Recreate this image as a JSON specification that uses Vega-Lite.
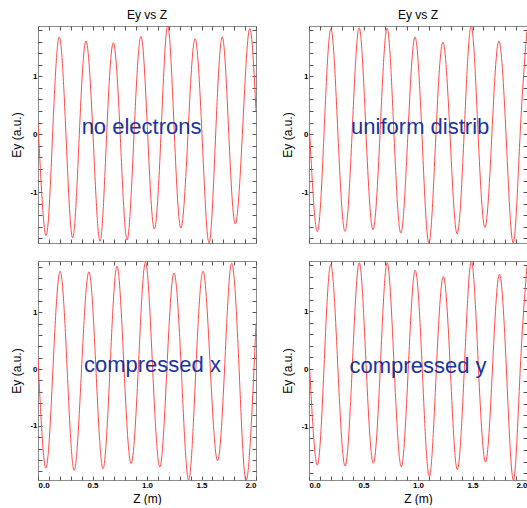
{
  "$schema": "https://vega.github.io/schema/vega-lite/v6.json",
  "padding": {"left": 10, "top": 8, "right": 0, "bottom": 0},
  "background": "white",
  "config": {
    "font": "Liberation Sans",
    "view": {"stroke": "#8c8c8c", "strokeWidth": 1},
    "axis": {
      "grid": false, "domain": false, "tickSize": -4, "tickColor": "#555555", "tickWidth": 1,
      "labelFont": "Liberation Sans", "labelFontSize": 8, "labelFontWeight": "bold", "labelColor": "#000000",
      "titleFont": "Liberation Sans", "titleFontSize": 12, "titleFontWeight": "normal", "titleColor": "#000000"
    },
    "title": {"fontSize": 12, "fontWeight": "normal", "offset": 4, "font": "Liberation Sans", "anchor": "middle"}
  },
  "datasets": {
    "waves": [
      {"panel": "A", "z": 0, "ey": 0.2},
      {"panel": "A", "z": 0.073, "ey": -1.75},
      {"panel": "A", "z": 0.134, "ey": 0},
      {"panel": "A", "z": 0.195, "ey": 1.68},
      {"panel": "A", "z": 0.2565, "ey": 0},
      {"panel": "A", "z": 0.318, "ey": -1.79},
      {"panel": "A", "z": 0.379, "ey": 0},
      {"panel": "A", "z": 0.44, "ey": 1.61},
      {"panel": "A", "z": 0.5045, "ey": 0},
      {"panel": "A", "z": 0.569, "ey": -1.85},
      {"panel": "A", "z": 0.63, "ey": 0},
      {"panel": "A", "z": 0.691, "ey": 1.58},
      {"panel": "A", "z": 0.754, "ey": 0},
      {"panel": "A", "z": 0.817, "ey": -1.83},
      {"panel": "A", "z": 0.881, "ey": 0},
      {"panel": "A", "z": 0.945, "ey": 1.69},
      {"panel": "A", "z": 1.006, "ey": 0},
      {"panel": "A", "z": 1.067, "ey": -1.64},
      {"panel": "A", "z": 1.1285, "ey": 0},
      {"panel": "A", "z": 1.19, "ey": 1.87},
      {"panel": "A", "z": 1.251, "ey": 0},
      {"panel": "A", "z": 1.312, "ey": -1.62},
      {"panel": "A", "z": 1.376, "ey": 0},
      {"panel": "A", "z": 1.44, "ey": 1.65},
      {"panel": "A", "z": 1.5045, "ey": 0},
      {"panel": "A", "z": 1.569, "ey": -1.88},
      {"panel": "A", "z": 1.63, "ey": 0},
      {"panel": "A", "z": 1.691, "ey": 1.68},
      {"panel": "A", "z": 1.7505, "ey": 0},
      {"panel": "A", "z": 1.81, "ey": -1.55},
      {"panel": "A", "z": 1.875, "ey": 0},
      {"panel": "A", "z": 1.94, "ey": 1.82},
      {"panel": "A", "z": 2.0, "ey": 0.4},

      {"panel": "B", "z": 0, "ey": 0.25},
      {"panel": "B", "z": 0.074, "ey": -1.68},
      {"panel": "B", "z": 0.1375, "ey": 0},
      {"panel": "B", "z": 0.201, "ey": 1.82},
      {"panel": "B", "z": 0.2655, "ey": 0},
      {"panel": "B", "z": 0.33, "ey": -1.68},
      {"panel": "B", "z": 0.395, "ey": 0},
      {"panel": "B", "z": 0.46, "ey": 1.84},
      {"panel": "B", "z": 0.5235, "ey": 0},
      {"panel": "B", "z": 0.587, "ey": -1.65},
      {"panel": "B", "z": 0.6515, "ey": 0},
      {"panel": "B", "z": 0.716, "ey": 1.83},
      {"panel": "B", "z": 0.7795, "ey": 0},
      {"panel": "B", "z": 0.843, "ey": -1.71},
      {"panel": "B", "z": 0.9075, "ey": 0},
      {"panel": "B", "z": 0.972, "ey": 1.68},
      {"panel": "B", "z": 1.036, "ey": 0},
      {"panel": "B", "z": 1.1, "ey": -1.88},
      {"panel": "B", "z": 1.1645, "ey": 0},
      {"panel": "B", "z": 1.229, "ey": 1.59},
      {"panel": "B", "z": 1.2935, "ey": 0},
      {"panel": "B", "z": 1.358, "ey": -1.72},
      {"panel": "B", "z": 1.423, "ey": 0},
      {"panel": "B", "z": 1.488, "ey": 1.87},
      {"panel": "B", "z": 1.5515, "ey": 0},
      {"panel": "B", "z": 1.615, "ey": -1.61},
      {"panel": "B", "z": 1.678, "ey": 0},
      {"panel": "B", "z": 1.741, "ey": 1.61},
      {"panel": "B", "z": 1.8075, "ey": 0},
      {"panel": "B", "z": 1.874, "ey": -1.88},
      {"panel": "B", "z": 1.937, "ey": 0},
      {"panel": "B", "z": 2.0, "ey": 1.8},

      {"panel": "C", "z": 0, "ey": 0.19},
      {"panel": "C", "z": 0.071, "ey": -1.74},
      {"panel": "C", "z": 0.137, "ey": 0},
      {"panel": "C", "z": 0.203, "ey": 1.72},
      {"panel": "C", "z": 0.2675, "ey": 0},
      {"panel": "C", "z": 0.332, "ey": -1.78},
      {"panel": "C", "z": 0.3995, "ey": 0},
      {"panel": "C", "z": 0.467, "ey": 1.71},
      {"panel": "C", "z": 0.5315, "ey": 0},
      {"panel": "C", "z": 0.596, "ey": -1.75},
      {"panel": "C", "z": 0.6605, "ey": 0},
      {"panel": "C", "z": 0.725, "ey": 1.81},
      {"panel": "C", "z": 0.7895, "ey": 0},
      {"panel": "C", "z": 0.854, "ey": -1.66},
      {"panel": "C", "z": 0.92, "ey": 0},
      {"panel": "C", "z": 0.986, "ey": 1.88},
      {"panel": "C", "z": 1.052, "ey": 0},
      {"panel": "C", "z": 1.118, "ey": -1.72},
      {"panel": "C", "z": 1.1825, "ey": 0},
      {"panel": "C", "z": 1.247, "ey": 1.69},
      {"panel": "C", "z": 1.3145, "ey": 0},
      {"panel": "C", "z": 1.382, "ey": -1.95},
      {"panel": "C", "z": 1.4485, "ey": 0},
      {"panel": "C", "z": 1.515, "ey": 1.72},
      {"panel": "C", "z": 1.581, "ey": 0},
      {"panel": "C", "z": 1.647, "ey": -1.61},
      {"panel": "C", "z": 1.7115, "ey": 0},
      {"panel": "C", "z": 1.776, "ey": 1.86},
      {"panel": "C", "z": 1.845, "ey": 0},
      {"panel": "C", "z": 1.914, "ey": -1.95},
      {"panel": "C", "z": 2.0, "ey": 0.8},

      {"panel": "D", "z": 0, "ey": 0.22},
      {"panel": "D", "z": 0.074, "ey": -1.66},
      {"panel": "D", "z": 0.137, "ey": 0},
      {"panel": "D", "z": 0.2, "ey": 1.81},
      {"panel": "D", "z": 0.2655, "ey": 0},
      {"panel": "D", "z": 0.331, "ey": -1.68},
      {"panel": "D", "z": 0.396, "ey": 0},
      {"panel": "D", "z": 0.461, "ey": 1.84},
      {"panel": "D", "z": 0.5255, "ey": 0},
      {"panel": "D", "z": 0.59, "ey": -1.63},
      {"panel": "D", "z": 0.6535, "ey": 0},
      {"panel": "D", "z": 0.717, "ey": 1.84},
      {"panel": "D", "z": 0.782, "ey": 0},
      {"panel": "D", "z": 0.847, "ey": -1.69},
      {"panel": "D", "z": 0.9105, "ey": 0},
      {"panel": "D", "z": 0.974, "ey": 1.71},
      {"panel": "D", "z": 1.039, "ey": 0},
      {"panel": "D", "z": 1.104, "ey": -1.86},
      {"panel": "D", "z": 1.1685, "ey": 0},
      {"panel": "D", "z": 1.233, "ey": 1.6},
      {"panel": "D", "z": 1.2965, "ey": 0},
      {"panel": "D", "z": 1.36, "ey": -1.74},
      {"panel": "D", "z": 1.425, "ey": 0},
      {"panel": "D", "z": 1.49, "ey": 1.86},
      {"panel": "D", "z": 1.555, "ey": 0},
      {"panel": "D", "z": 1.62, "ey": -1.61},
      {"panel": "D", "z": 1.683, "ey": 0},
      {"panel": "D", "z": 1.746, "ey": 1.64},
      {"panel": "D", "z": 1.811, "ey": 0},
      {"panel": "D", "z": 1.876, "ey": -1.92},
      {"panel": "D", "z": 1.938, "ey": 0},
      {"panel": "D", "z": 2.0, "ey": 1.78}
    ],
    "labels": [
      {"panel": "A", "label": "no electrons"},
      {"panel": "B", "label": "uniform distrib"},
      {"panel": "C", "label": "compressed x"},
      {"panel": "D", "label": "compressed y"}
    ]
  },
  "columns": 2,
  "spacing": {"row": 18, "column": 53},
  "bounds": "flush",
  "concat": [
    {
      "width": 218, "height": 217,
      "title": "Ey vs Z",
      "layer": [
        {
          "data": {"name": "waves"},
          "transform": [{"filter": "datum.panel == 'A'"}],
          "mark": {"type": "line", "color": "#ff4a4a", "strokeWidth": 1, "interpolate": "natural", "clip": true},
          "encoding": {
            "x": {"field": "z", "type": "quantitative", "scale": {"domain": [0, 2], "nice": false, "zero": false},
                  "axis": {"orient": "bottom", "values": [0,0.1,0.2,0.3,0.4,0.5,0.6,0.7,0.8,0.9,1,1.1,1.2,1.3,1.4,1.5,1.6,1.7,1.8,1.9,2], "labels": false, "title": null}},
            "y": {"field": "ey", "type": "quantitative", "scale": {"domain": [-1.88, 1.87], "nice": false, "zero": false},
                  "axis": {"orient": "left", "values": [-1.8,-1.6,-1.4,-1.2,-1,-0.8,-0.6,-0.4,-0.2,0,0.2,0.4,0.6,0.8,1,1.2,1.4,1.6,1.8], "labelExpr": "datum.value == 0 ? '0' : datum.value == 1 ? '1' : datum.value == -1 ? '-1' : ''", "labelPadding": 5, "title": "Ey (a.u.)", "titlePadding": 6}}
          }
        },
        {
          "data": {"name": "labels"},
          "transform": [{"filter": "datum.panel == 'A'"}],
          "mark": {"type": "text", "fontSize": 22, "color": "#17349f", "align": "center", "baseline": "alphabetic", "font": "Liberation Sans"},
          "encoding": {
            "text": {"field": "label"},
            "x": {"datum": 0.95, "type": "quantitative", "axis": {"orient": "top", "values": [0,0.1,0.2,0.3,0.4,0.5,0.6,0.7,0.8,0.9,1,1.1,1.2,1.3,1.4,1.5,1.6,1.7,1.8,1.9,2], "labels": false, "title": null}},
            "y": {"datum": 0, "type": "quantitative", "axis": {"orient": "right", "values": [-1.8,-1.6,-1.4,-1.2,-1,-0.8,-0.6,-0.4,-0.2,0,0.2,0.4,0.6,0.8,1,1.2,1.4,1.6,1.8], "labels": false, "title": null}}
          }
        }
      ],
      "resolve": {"axis": {"x": "independent", "y": "independent"}}
    },
    {
      "width": 218, "height": 217,
      "title": "Ey vs Z",
      "layer": [
        {
          "data": {"name": "waves"},
          "transform": [{"filter": "datum.panel == 'B'"}],
          "mark": {"type": "line", "color": "#ff4a4a", "strokeWidth": 1, "interpolate": "natural", "clip": true},
          "encoding": {
            "x": {"field": "z", "type": "quantitative", "scale": {"domain": [0, 2], "nice": false, "zero": false},
                  "axis": {"orient": "bottom", "values": [0,0.1,0.2,0.3,0.4,0.5,0.6,0.7,0.8,0.9,1,1.1,1.2,1.3,1.4,1.5,1.6,1.7,1.8,1.9,2], "labels": false, "title": null}},
            "y": {"field": "ey", "type": "quantitative", "scale": {"domain": [-1.88, 1.87], "nice": false, "zero": false},
                  "axis": {"orient": "left", "values": [-1.8,-1.6,-1.4,-1.2,-1,-0.8,-0.6,-0.4,-0.2,0,0.2,0.4,0.6,0.8,1,1.2,1.4,1.6,1.8], "labelExpr": "datum.value == 0 ? '0' : datum.value == 1 ? '1' : datum.value == -1 ? '-1' : ''", "labelPadding": 5, "title": "Ey (a.u.)", "titlePadding": 6}}
          }
        },
        {
          "data": {"name": "labels"},
          "transform": [{"filter": "datum.panel == 'B'"}],
          "mark": {"type": "text", "fontSize": 22, "color": "#17349f", "align": "center", "baseline": "alphabetic", "font": "Liberation Sans"},
          "encoding": {
            "text": {"field": "label"},
            "x": {"datum": 1.02, "type": "quantitative", "axis": {"orient": "top", "values": [0,0.1,0.2,0.3,0.4,0.5,0.6,0.7,0.8,0.9,1,1.1,1.2,1.3,1.4,1.5,1.6,1.7,1.8,1.9,2], "labels": false, "title": null}},
            "y": {"datum": 0, "type": "quantitative", "axis": {"orient": "right", "values": [-1.8,-1.6,-1.4,-1.2,-1,-0.8,-0.6,-0.4,-0.2,0,0.2,0.4,0.6,0.8,1,1.2,1.4,1.6,1.8], "labels": false, "title": null}}
          }
        }
      ],
      "resolve": {"axis": {"x": "independent", "y": "independent"}}
    },
    {
      "width": 218, "height": 219,
      "layer": [
        {
          "data": {"name": "waves"},
          "transform": [{"filter": "datum.panel == 'C'"}],
          "mark": {"type": "line", "color": "#ff4a4a", "strokeWidth": 1, "interpolate": "natural", "clip": true},
          "encoding": {
            "x": {"field": "z", "type": "quantitative", "scale": {"domain": [0, 2], "nice": false, "zero": false},
                  "axis": {"orient": "bottom", "values": [0,0.1,0.2,0.3,0.4,0.5,0.6,0.7,0.8,0.9,1,1.1,1.2,1.3,1.4,1.5,1.6,1.7,1.8,1.9,2], "labelExpr": "round(datum.value*10) % 5 == 0 ? format(datum.value, '.1f') : ''", "labelPadding": 5, "title": "Z (m)", "titlePadding": 4}},
            "y": {"field": "ey", "type": "quantitative", "scale": {"domain": [-1.95, 1.9], "nice": false, "zero": false},
                  "axis": {"orient": "left", "values": [-1.8,-1.6,-1.4,-1.2,-1,-0.8,-0.6,-0.4,-0.2,0,0.2,0.4,0.6,0.8,1,1.2,1.4,1.6,1.8], "labelExpr": "datum.value == 0 ? '0' : datum.value == 1 ? '1' : datum.value == -1 ? '-1' : ''", "labelPadding": 5, "title": "Ey (a.u.)", "titlePadding": 6}}
          }
        },
        {
          "data": {"name": "labels"},
          "transform": [{"filter": "datum.panel == 'C'"}],
          "mark": {"type": "text", "fontSize": 22, "color": "#17349f", "align": "center", "baseline": "alphabetic", "font": "Liberation Sans"},
          "encoding": {
            "text": {"field": "label"},
            "x": {"datum": 1.05, "type": "quantitative", "axis": {"orient": "top", "values": [0,0.1,0.2,0.3,0.4,0.5,0.6,0.7,0.8,0.9,1,1.1,1.2,1.3,1.4,1.5,1.6,1.7,1.8,1.9,2], "labels": false, "title": null}},
            "y": {"datum": -0.06, "type": "quantitative", "axis": {"orient": "right", "values": [-1.8,-1.6,-1.4,-1.2,-1,-0.8,-0.6,-0.4,-0.2,0,0.2,0.4,0.6,0.8,1,1.2,1.4,1.6,1.8], "labels": false, "title": null}}
          }
        }
      ],
      "resolve": {"axis": {"x": "independent", "y": "independent"}}
    },
    {
      "width": 218, "height": 219,
      "layer": [
        {
          "data": {"name": "waves"},
          "transform": [{"filter": "datum.panel == 'D'"}],
          "mark": {"type": "line", "color": "#ff4a4a", "strokeWidth": 1, "interpolate": "natural", "clip": true},
          "encoding": {
            "x": {"field": "z", "type": "quantitative", "scale": {"domain": [0, 2], "nice": false, "zero": false},
                  "axis": {"orient": "bottom", "values": [0,0.1,0.2,0.3,0.4,0.5,0.6,0.7,0.8,0.9,1,1.1,1.2,1.3,1.4,1.5,1.6,1.7,1.8,1.9,2], "labelExpr": "round(datum.value*10) % 5 == 0 ? format(datum.value, '.1f') : ''", "labelPadding": 5, "title": "Z (m)", "titlePadding": 4}},
            "y": {"field": "ey", "type": "quantitative", "scale": {"domain": [-1.92, 1.87], "nice": false, "zero": false},
                  "axis": {"orient": "left", "values": [-1.8,-1.6,-1.4,-1.2,-1,-0.8,-0.6,-0.4,-0.2,0,0.2,0.4,0.6,0.8,1,1.2,1.4,1.6,1.8], "labelExpr": "datum.value == 0 ? '0' : datum.value == 1 ? '1' : datum.value == -1 ? '-1' : ''", "labelPadding": 5, "title": "Ey (a.u.)", "titlePadding": 6}}
          }
        },
        {
          "data": {"name": "labels"},
          "transform": [{"filter": "datum.panel == 'D'"}],
          "mark": {"type": "text", "fontSize": 22, "color": "#17349f", "align": "center", "baseline": "alphabetic", "font": "Liberation Sans"},
          "encoding": {
            "text": {"field": "label"},
            "x": {"datum": 1.0, "type": "quantitative", "axis": {"orient": "top", "values": [0,0.1,0.2,0.3,0.4,0.5,0.6,0.7,0.8,0.9,1,1.1,1.2,1.3,1.4,1.5,1.6,1.7,1.8,1.9,2], "labels": false, "title": null}},
            "y": {"datum": -0.06, "type": "quantitative", "axis": {"orient": "right", "values": [-1.8,-1.6,-1.4,-1.2,-1,-0.8,-0.6,-0.4,-0.2,0,0.2,0.4,0.6,0.8,1,1.2,1.4,1.6,1.8], "labels": false, "title": null}}
          }
        }
      ],
      "resolve": {"axis": {"x": "independent", "y": "independent"}}
    }
  ]
}
